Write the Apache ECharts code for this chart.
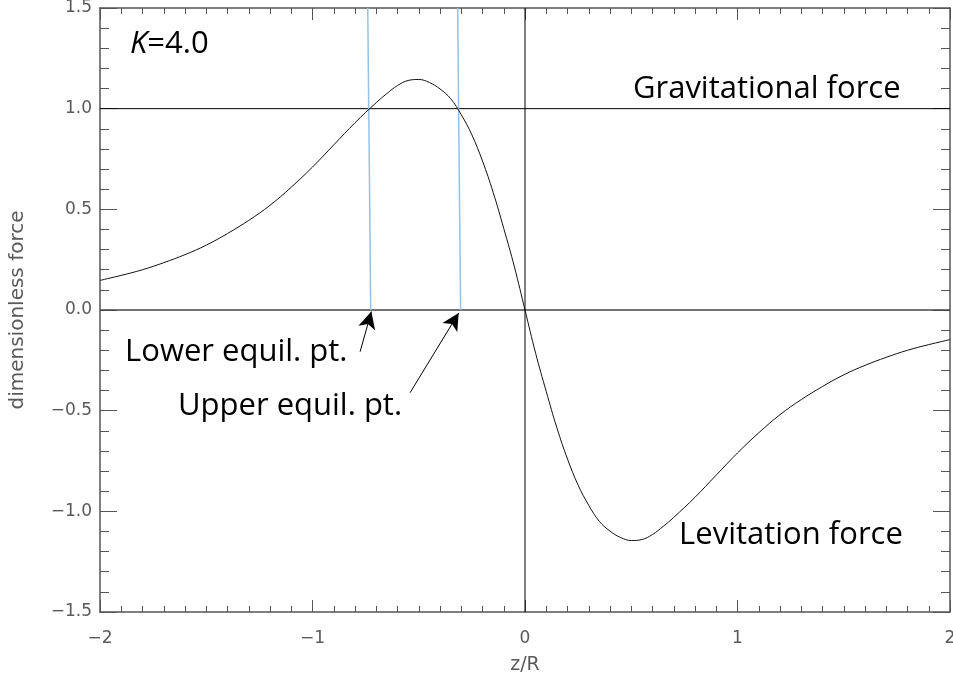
<!DOCTYPE html>
<html>
<head>
<meta charset="utf-8">
<style>
  html, body { margin: 0; padding: 0; background: #fff; }
  #chart { width: 953px; height: 675px; }
</style>
<script src="https://cdn.jsdelivr.net/npm/echarts@6.0.0/dist/echarts.min.js"></script>
</head>
<body>
<div id="chart"></div>
<script>
// force curve (z/R vs dimensionless force)
const zVals = [-2.0, -1.9, -1.8, -1.7, -1.6, -1.5, -1.4, -1.3, -1.2, -1.1,
  -1.0, -0.9, -0.8, -0.7, -0.65, -0.6, -0.55, -0.5, -0.45, -0.4, -0.35, -0.3,
  -0.25, -0.2, -0.15, -0.1, -0.05, 0.0, 0.05, 0.1, 0.15, 0.2, 0.25,
  0.3, 0.35, 0.4, 0.45, 0.5, 0.55, 0.6, 0.65, 0.7, 0.8, 0.9,
  1.0, 1.1, 1.2, 1.3, 1.4, 1.5, 1.6, 1.7, 1.8, 1.9, 2.0]
const forceVals = [0.147, 0.172, 0.2, 0.235, 0.275, 0.322, 0.38, 0.445, 0.52, 0.61,
  0.71, 0.82, 0.93, 1.03, 1.075, 1.115, 1.14, 1.145, 1.13, 1.098, 1.05, 0.97,
  0.87, 0.74, 0.585, 0.405, 0.215, 0.0, -0.215, -0.405, -0.585, -0.74, -0.87,
  -0.97, -1.05, -1.098, -1.13, -1.145, -1.14, -1.115, -1.075, -1.03, -0.93, -0.82,
  -0.71, -0.61, -0.52, -0.445, -0.38, -0.322, -0.275, -0.235, -0.2, -0.172, -0.147]

// reference lines
const gravityLine = [[-2, 1], [2, 1]]
const zeroLine = [[-2, 0], [2, 0]]
const originLine = [[0, -1.5], [0, 1.5]]

// blue equilibrium markers
const lowerEquil = [[-0.74, 1.5], [-0.726, 0]]
const upperEquil = [[-0.317, 1.5], [-0.303, 0]]

// arrows: [tail, tip]
const lowerArrow = [[-0.776, -0.207], [-0.723, -0.008]]
const upperArrow = [[-0.541, -0.411], [-0.312, -0.015]]

// annotation texts: [label, z, force] (left edge, vertical middle)
const notes = [
  ['Gravitational force', 0.508, 1.098],
  ['Lower equil. pt.', -1.882, -0.211],
  ['Upper equil. pt.', -1.633, -0.477],
  ['Levitation force', 0.725, -1.118]
]
const kNote = [-1.859, 1.319]

const xTicks = { min: -2, max: 2, interval: 1 }
const yTicks = { min: -1.5, max: 1.5, interval: 0.5 }

const chart = echarts.init(document.getElementById('chart'))
const zip = (a, b) => a.map((v, i) => [v, b[i]])
const minus = (s) => String(s).replace('-', '\u2212')
const axisColor = '#555'
const labelFont = { color: '#5a5a5a', fontFamily: 'DejaVu Sans', fontSize: 17 }

function xAxisOpt(pos, showLabel) {
  return {
    type: 'value', position: pos, ...xTicks,
    name: showLabel ? 'z/R' : '', nameLocation: 'middle', nameGap: 44,
    nameTextStyle: { ...labelFont, fontSize: 19 },
    axisLine: { show: true, onZero: false, lineStyle: { color: axisColor, width: 1.5 } },
    axisTick: { show: true, inside: true, length: 12, lineStyle: { color: axisColor } },
    minorTick: { show: true, splitNumber: 10, length: 6, lineStyle: { color: axisColor } },
    splitLine: { show: false },
    axisLabel: { show: showLabel, margin: 18, ...labelFont, formatter: (v) => minus(v) }
  }
}

function yAxisOpt(pos, showLabel) {
  return {
    type: 'value', position: pos, ...yTicks,
    name: showLabel ? 'dimensionless force' : '', nameLocation: 'middle', nameGap: 72,
    nameTextStyle: { ...labelFont, fontSize: 20 },
    axisLine: { show: true, onZero: false, lineStyle: { color: axisColor, width: 1.5 } },
    axisTick: { show: true, inside: true, length: 17, lineStyle: { color: axisColor } },
    minorTick: { show: true, splitNumber: 5, length: 9, lineStyle: { color: axisColor } },
    splitLine: { show: false },
    axisLabel: { show: showLabel, margin: 8, ...labelFont, formatter: (v) => minus(v.toFixed(1)) }
  }
}

function plainLine(data, color, width) {
  return {
    type: 'line', data: data, symbol: 'none', silent: true,
    lineStyle: { color: color, width: width }, z: 3
  }
}

chart.setOption({
  animation: false,
  grid: { left: 100, right: 3, top: 8, bottom: 63, containLabel: false, outerBoundsMode: 'none' },
  xAxis: [xAxisOpt('bottom', true), xAxisOpt('top', false)],
  yAxis: [yAxisOpt('left', true), yAxisOpt('right', false)],
  series: [
    plainLine(gravityLine, '#000', 1),
    plainLine(zeroLine, '#444', 1.5),
    plainLine(originLine, '#000', 1),
    plainLine(lowerEquil, '#94c2e8', 1.5),
    plainLine(upperEquil, '#94c2e8', 1.5),
    {
      type: 'line', data: zip(zVals, forceVals), symbol: 'none', smooth: 0.4,
      lineStyle: { color: '#111', width: 1 }, z: 4
    },
    {
      type: 'line', data: [], silent: true,
      markLine: {
        silent: true, animation: false,
        symbol: ['none', 'arrow'], symbolSize: [13, 17],
        label: { show: false },
        lineStyle: { color: '#000', width: 1, type: 'solid' },
        data: [lowerArrow, upperArrow].map((a) => [{ coord: a[0] }, { coord: a[1] }])
      }
    }
  ]
})

// annotations placed from data coordinates
const textFont = '"Open Sans", Lato, sans-serif'
const graphics = notes.map(([label, z, f]) => {
  const p = chart.convertToPixel({ gridIndex: 0 }, [z, f])
  return {
    type: 'text', x: p[0], y: p[1], z: 10,
    style: { text: label, fill: '#000', font: '31px ' + textFont, verticalAlign: 'middle' }
  }
})
const kp = chart.convertToPixel({ gridIndex: 0 }, kNote)
graphics.push({
  type: 'text', x: kp[0], y: kp[1], z: 10,
  style: {
    text: '{i|K}=4.0', verticalAlign: 'middle',
    rich: {
      i: { fontStyle: 'italic', fontSize: 31, fontFamily: textFont, fill: '#000' }
    },
    font: '31px ' + textFont, fill: '#000'
  }
})
chart.setOption({ graphic: graphics })
</script>
</body>
</html>
